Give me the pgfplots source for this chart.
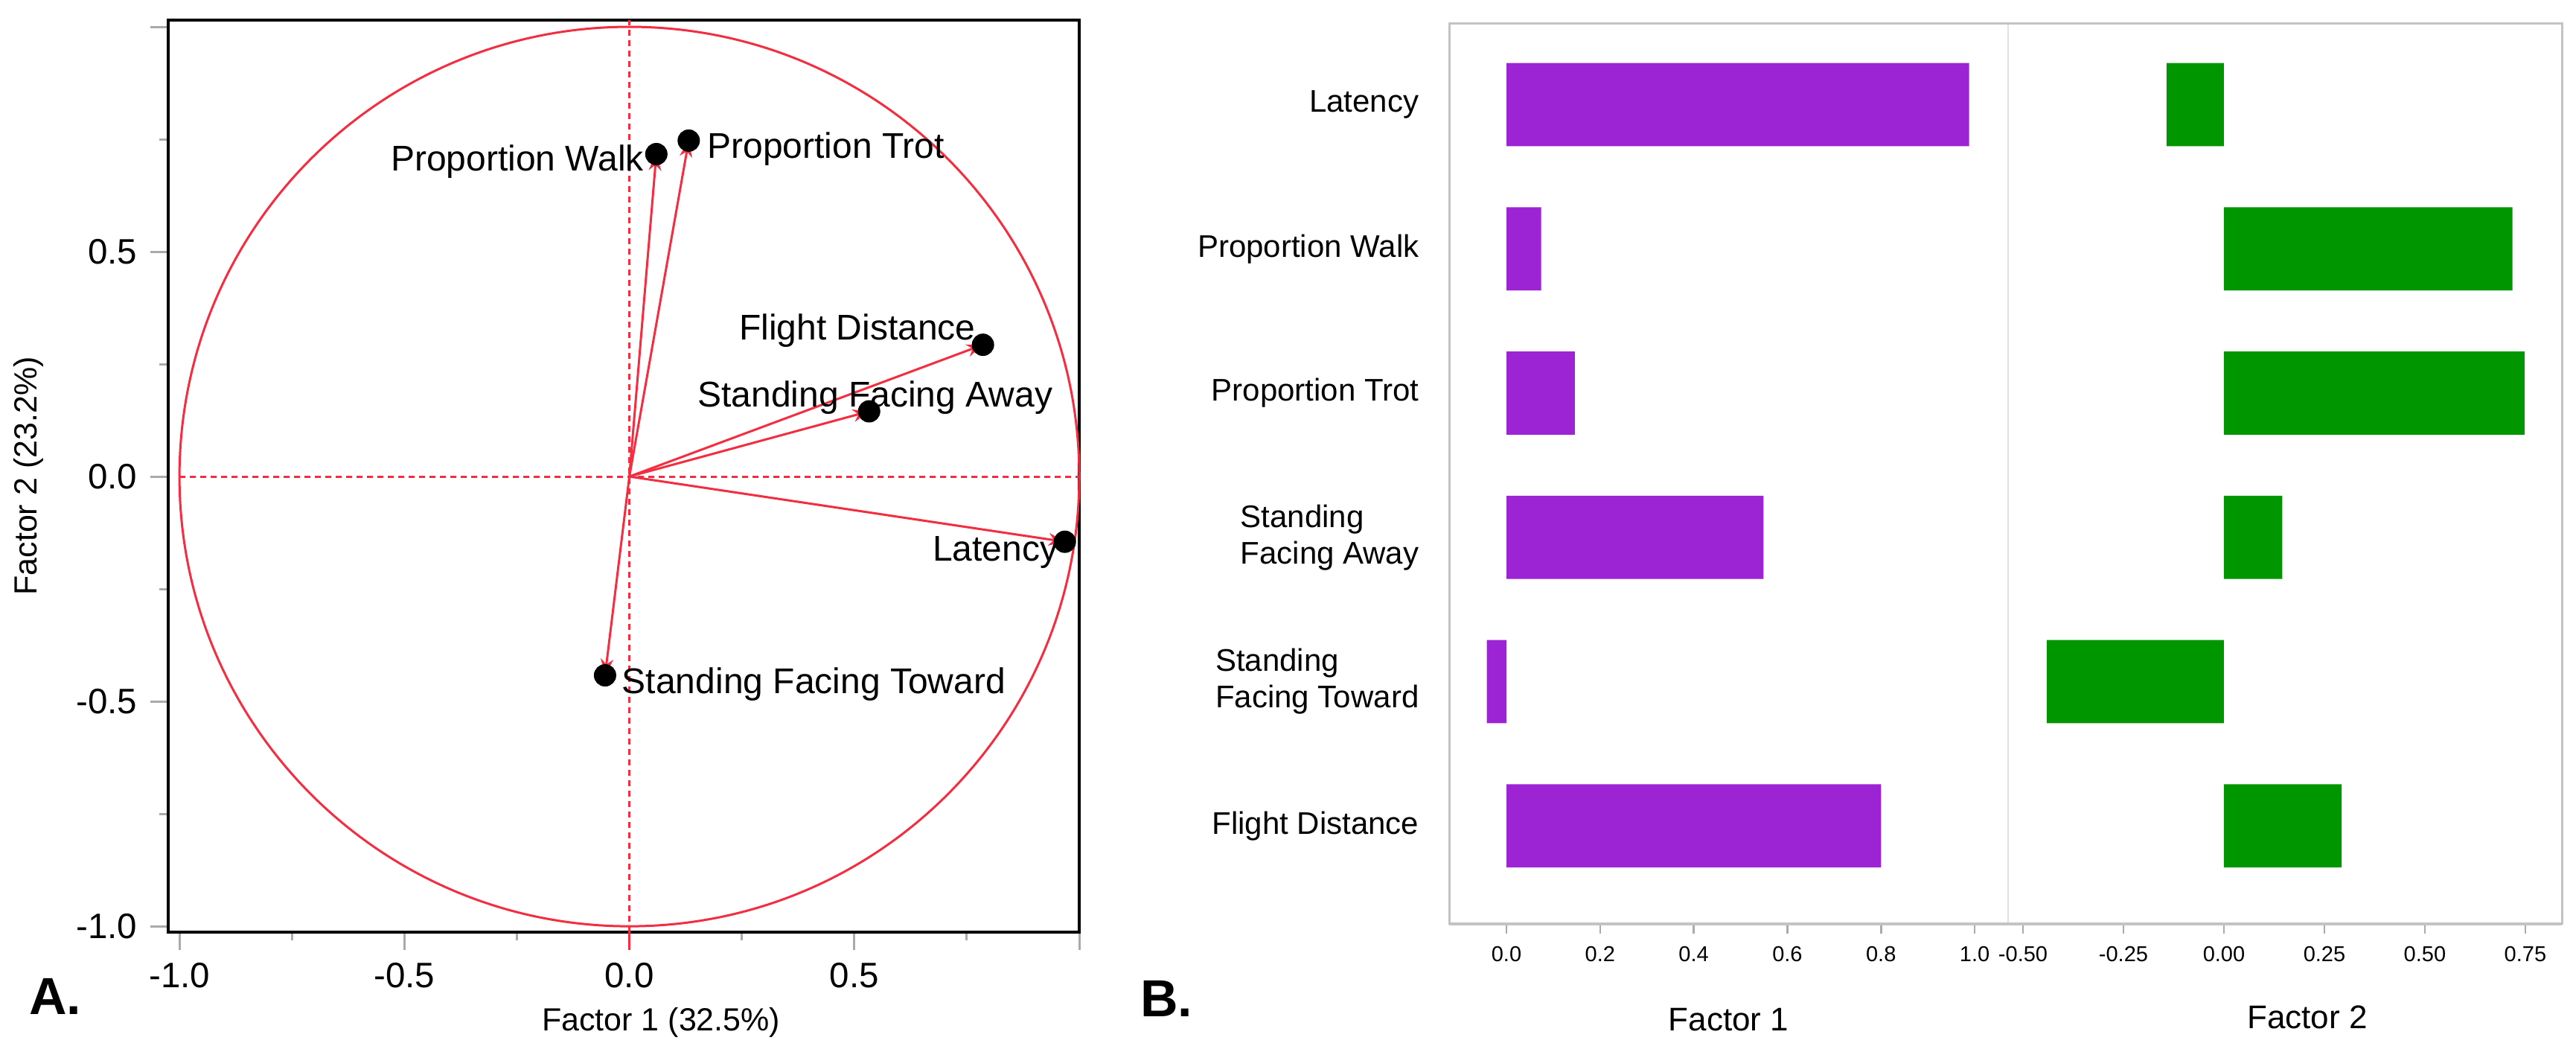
\documentclass[border=0pt]{standalone}
\usepackage{fontspec}
\setmainfont{Liberation Sans}
\usepackage{pgfplots}
\usepackage{pgfplotstable}
\pgfplotsset{compat=1.18}
\usetikzlibrary{arrows.meta}
\definecolor{barpurple}{RGB}{156,36,212}
\definecolor{bargreen}{RGB}{0,150,0}
\definecolor{pcared}{RGB}{245,45,65}
\definecolor{tickgray}{RGB}{170,170,170}
\definecolor{boxgray}{RGB}{195,195,195}
\definecolor{divgray}{RGB}{225,225,225}

% PCA loadings as plotted in panel A
\pgfplotstableread{
x y ox oy
0.060 0.717 0 0
0.132 0.747 0 0
0.786 0.293 0 0
0.533 0.145 0 0
0.968 -0.145 0 0
-0.054 -0.442 0 0
}\scores

% loadings as bars in panel B (pos 5 = top row)
\pgfplotstableread{
pos f1 f2
5 0.988 -0.143
4 0.074 0.718
3 0.146 0.748
2 0.549 0.145
1 -0.042 -0.441
0 0.800 0.293
}\loadings

\begin{document}
\begin{tikzpicture}
\useasboundingbox (0,0) rectangle (692.2pt,282.6pt);

% ---------------- Panel A ----------------
\begin{axis}[
  at={(45.2pt,32.2pt)}, anchor=south west, scale only axis,
  width=244.8pt, height=245pt,
  xmin=-1.025, xmax=1.0, ymin=-1.013, ymax=1.015,
  axis line style={black, line width=0.7pt},
  tick align=outside, tick pos=left,
  xtick={-1,-0.5,0,0.5,1}, xticklabels={-1.0,-0.5,0.0,0.5,{}},
  ytick={-1,-0.5,0,0.5,1}, yticklabels={-1.0,-0.5,0.0,0.5,{}},
  minor xtick={-0.75,-0.25,0.25,0.75},
  minor ytick={-0.75,-0.25,0.25,0.75},
  major tick length=4.8pt, minor tick length=2.3pt,
  tick style={tickgray, line width=0.6pt},
  ticklabel style={font=\fontsize{9.5}{11}\selectfont},
  xlabel={Factor 1 (32.5\%)}, ylabel={Factor 2 (23.2\%)},
  xlabel style={at={([yshift=-26.6pt]axis description cs:0.541,0)}, anchor=base, font=\fontsize{8.6}{10}\selectfont},
  ylabel style={at={([xshift=-35.2pt]axis description cs:0,0.5)}, anchor=base, font=\fontsize{8.6}{10}\selectfont},
  clip=false,
]
\draw[pcared, line width=0.6pt] (axis cs:0,0) ellipse [x radius=1, y radius=1];
\draw[pcared, line width=0.6pt, dash pattern=on 1.6pt off 1.2pt] (axis cs:0,-1.013) -- (axis cs:0,1.015);
\draw[pcared, line width=0.6pt] (axis cs:0,-1.013) -- ([yshift=-4.8pt]axis cs:0,-1.013);
\draw[pcared, line width=0.6pt, dash pattern=on 1.6pt off 1.2pt] (axis cs:-1,0) -- (axis cs:1,0);
\addplot[pcared, line width=0.6pt,
  quiver={u=\thisrow{x}, v=\thisrow{y},
    every arrow/.append style={-{Stealth[length=4.4pt,width=3.4pt]}}}]
  table[x=ox, y=oy] {\scores};
\addplot[only marks, mark=*, mark size=2.8pt, black] table[x=x, y=y] {\scores};
\begin{scope}[every node/.style={inner sep=0pt, font=\fontsize{9.6}{11}\selectfont}]
\node[anchor=base east, xshift=-3.2pt, yshift=-4.6pt] at (axis cs:0.060,0.717) {Proportion Walk};
\node[anchor=base west, xshift=4.8pt, yshift=-4.7pt] at (axis cs:0.132,0.747) {Proportion Trot};
\node[anchor=base east, xshift=-1.8pt, yshift=1.3pt] at (axis cs:0.786,0.293) {Flight Distance};
\node[anchor=base, xshift=1.6pt, yshift=1.1pt] at (axis cs:0.533,0.145) {Standing Facing Away};
\node[anchor=base east, xshift=-1.7pt, yshift=-5.1pt] at (axis cs:0.968,-0.145) {Latency};
\node[anchor=base west, xshift=4.4pt, yshift=-4.8pt] at (axis cs:-0.054,-0.442) {Standing Facing Toward};
\end{scope}
\end{axis}

% ---------------- Panel B ----------------
\begin{axis}[
  name=f1, at={(389.4pt,34.4pt)}, anchor=south west, scale only axis,
  width=150.2pt, height=241.8pt,
  xbar, bar width=0.576,
  xmin=-0.1224, xmax=1.0715, ymin=-0.68, ymax=5.56,
  axis line style={draw=none},
  tick align=outside, tick pos=left,
  ytick={0,1,2,3,4,5},
  yticklabels={Flight Distance,{Standing\\Facing Toward},{Standing\\Facing Away},Proportion Trot,Proportion Walk,Latency},
  yticklabel style={align=left, font=\fontsize{8.4}{9.8}\selectfont, xshift=-2pt},
  ytick style={draw=none},
  xtick={0,0.2,0.4,0.6,0.8,1}, xticklabels={0.0,0.2,0.4,0.6,0.8,1.0},
  major tick length=2.6pt,
  xtick style={tickgray, line width=0.5pt},
  xticklabel style={font=\fontsize{5.8}{7}\selectfont},
  xlabel={Factor 1},
  xlabel style={at={([yshift=-28.8pt]axis description cs:0.5,0)}, anchor=base, font=\fontsize{8.8}{10}\selectfont},
]
\addplot[fill=barpurple, draw=none] table[x=f1, y=pos] {\loadings};
\end{axis}

\begin{axis}[
  name=f2, at={(539.6pt,34.4pt)}, anchor=south west, scale only axis,
  width=148.8pt, height=241.8pt,
  xbar, bar width=0.576,
  xmin=-0.537, xmax=0.841, ymin=-0.68, ymax=5.56,
  axis line style={draw=none},
  tick align=outside, tick pos=left,
  ytick=\empty,
  xtick={-0.5,-0.25,0,0.25,0.5,0.75}, xticklabels={-0.50,-0.25,0.00,0.25,0.50,0.75},
  major tick length=2.6pt,
  xtick style={tickgray, line width=0.5pt},
  xticklabel style={font=\fontsize{5.8}{7}\selectfont},
  xlabel={Factor 2},
  xlabel style={at={([yshift=-28.2pt]axis description cs:0.54,0)}, anchor=base, font=\fontsize{8.8}{10}\selectfont},
]
\addplot[fill=bargreen, draw=none] table[x=f2, y=pos] {\loadings};
\end{axis}

\draw[divgray, line width=0.3pt] (f1.south east) -- (f1.north east);
\draw[boxgray, line width=0.6pt] (f1.south west) rectangle (f2.north east);
\draw[boxgray, line width=0.9pt] (f1.south west) -- (f2.south east);

\node[anchor=base west, inner sep=0pt, font=\bfseries\fontsize{14}{16}\selectfont] at (7.6pt,10pt) {A.};
\node[anchor=base west, inner sep=0pt, font=\bfseries\fontsize{14}{16}\selectfont] at (306.2pt,9.4pt) {B.};
\end{tikzpicture}
\end{document}
